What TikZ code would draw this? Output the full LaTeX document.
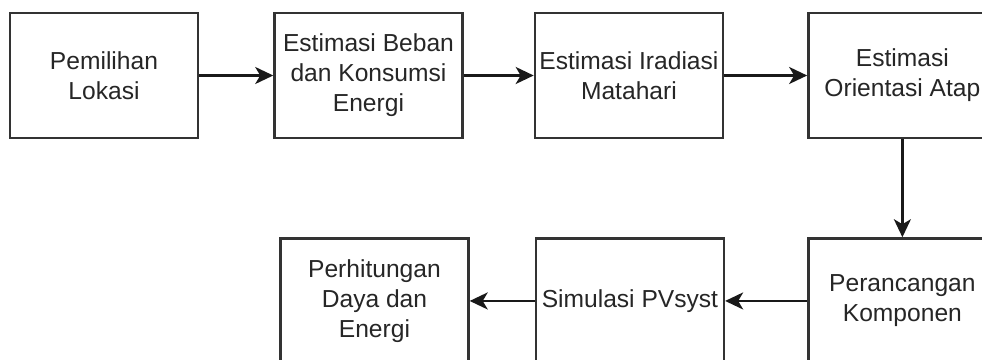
\documentclass[tikz,border=0pt]{standalone}
\usepackage{fontspec}
\setmainfont{Liberation Sans}
\usepackage{tikz}
\usetikzlibrary{arrows.meta, positioning}

\begin{document}
\begin{tikzpicture}[
  stepbox/.style={rectangle, draw=black!80, line width=1.4pt, fill=white, minimum width=3.76cm, minimum height=2.5cm, inner sep=1pt, font=\fontsize{14}{17}\selectfont, text=black!85, align=center},
  flow/.style={draw=black!90, line width=1.4pt, -{Stealth[length=0.36cm, width=0.34cm, inset=0.1cm]}}
]
\useasboundingbox (0,0) rectangle (19.64,-7.2);
\node[stepbox] (lokasi) at (2.08,-1.51) {Pemilihan\\Lokasi};
\node[stepbox, right=1.48cm of lokasi] (beban) {Estimasi Beban\\dan Konsumsi\\Energi};
\node[stepbox, right=1.4cm of beban] (iradiasi) {Estimasi Iradiasi\\Matahari};
\node[stepbox, right=1.66cm of iradiasi] (atap) {Estimasi\\Orientasi Atap};
\node[stepbox, below=1.96cm of atap] (komponen) {Perancangan\\Komponen};
\node[stepbox, left=1.64cm of komponen] (pvsyst) {Simulasi PVsyst};
\node[stepbox, left=1.3cm of pvsyst] (energi) {Perhitungan\\Daya dan\\Energi};
\draw[flow] (lokasi) -- (beban);
\draw[flow] (beban) -- (iradiasi);
\draw[flow] (iradiasi) -- (atap);
\draw[flow] (atap) -- (komponen);
\draw[flow] (komponen) -- (pvsyst);
\draw[flow] (pvsyst) -- (energi);
\end{tikzpicture}
\end{document}
